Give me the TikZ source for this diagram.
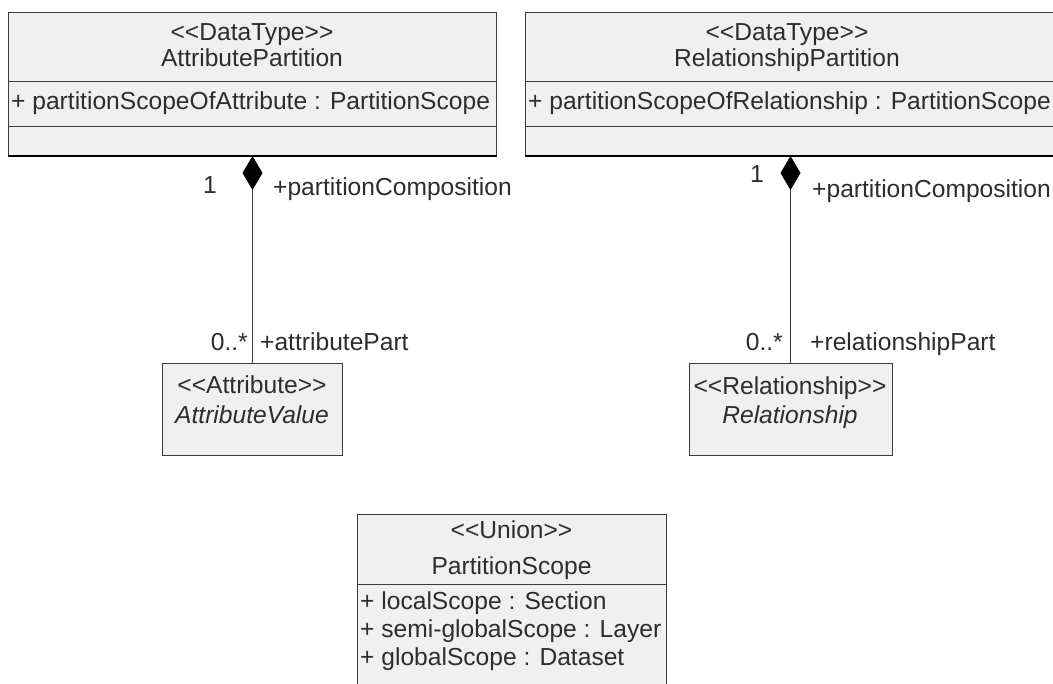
\documentclass[tikz,border=0pt]{standalone}
\usepackage{fontspec}
\setmainfont{Liberation Sans}
\usetikzlibrary{arrows.meta}
\definecolor{boxfill}{RGB}{240,240,240}
\definecolor{ink}{RGB}{45,45,45}
\definecolor{edge}{RGB}{60,60,60}
\newcommand{\stereo}[1]{<{}<#1>{}>}
\tikzset{
  classbox/.style={draw=edge, fill=boxfill, line width=1pt, inner sep=0pt, anchor=north west},
  lbl/.style={text=ink, font=\fontsize{24.6}{28}\selectfont, inner sep=0pt, text height=17pt, text depth=5pt},
  assoc/.style={draw=edge, line width=0.9pt},
  compo/.style={assoc, {Diamond[length=34pt,width=20pt,black]}-},
}
\begin{document}
\begin{tikzpicture}[x=1pt,y=-1pt]
\clip (0,0) rectangle (1053,684);
\fill[white] (0,0) rectangle (1053,684);

% data types
\node[classbox, minimum width=488pt, minimum height=143pt] (attrpart) at (8,12) {};
\draw[edge] (8,81) -- (496,81) (8,126) -- (496,126);
\draw[line width=1.6pt] (attrpart.south west) -- (attrpart.south east);
\node[lbl] (apstereo) at (252,35) {\stereo{DataType}};
\node[lbl] (apname) at (252,61) {AttributePartition};
\node[lbl, anchor=west] (apattr) at (11,104) {+ partitionScopeOfAttribute : PartitionScope};

\node[classbox, minimum width=530pt, minimum height=143pt] (relpart) at (525,12) {};
\draw[edge] (525,81) -- (1055,81) (525,126) -- (1055,126);
\draw[line width=1.6pt] (relpart.south west) -- (relpart.south east);
\node[lbl] (rpstereo) at (787,35) {\stereo{DataType}};
\node[lbl] (rpname) at (787,61) {RelationshipPartition};
\node[lbl, anchor=west] (rpattr) at (528,104) {+ partitionScopeOfRelationship : PartitionScope};

% parts
\node[classbox, minimum width=180pt, minimum height=92pt] (attrval) at (162,363) {};
\node[lbl] (avstereo) at (252,388) {\stereo{Attribute}};
\node[lbl] (avname) at (252,418) {\itshape AttributeValue};

\node[classbox, minimum width=203pt, minimum height=92pt] (relval) at (688.5,363) {};
\node[lbl] (rvstereo) at (790,389) {\stereo{Relationship}};
\node[lbl] (rvname) at (790,418) {\itshape Relationship};

% compositions
\draw[compo] (attrval.north |- attrpart.south) -- (attrval.north);
\draw[compo] (relval.north |- relpart.south) -- (relval.north);

\node[lbl] (apmult) at (210,188) {1};
\node[lbl, anchor=west] (aprole) at (273,190) {+partitionComposition};
\node[lbl, anchor=east] (avmult) at (248,345) {0..*};
\node[lbl, anchor=west] (avrole) at (260,345) {+attributePart};

\node[lbl] (rpmult) at (757,177) {1};
\node[lbl, anchor=west] (rprole) at (812,192) {+partitionComposition};
\node[lbl, anchor=east] (rvmult) at (783,345) {0..*};
\node[lbl, anchor=west] (rvrole) at (810,345) {+relationshipPart};

% union
\node[classbox, minimum width=309pt, minimum height=200pt] (pscope) at (357,514) {};
\draw[edge] (357,584) -- (666,584);
\node[lbl] (psstereo) at (511.5,533) {\stereo{Union}};
\node[lbl] (psname) at (511.5,568) {PartitionScope};
\foreach \y/\t in {603/{+ localScope : Section}, 631/{+ semi-globalScope : Layer}, 659/{+ globalScope : Dataset}}
  \node[lbl, anchor=west] (ps\y) at (360,\y) {\t};

\end{tikzpicture}
\end{document}
